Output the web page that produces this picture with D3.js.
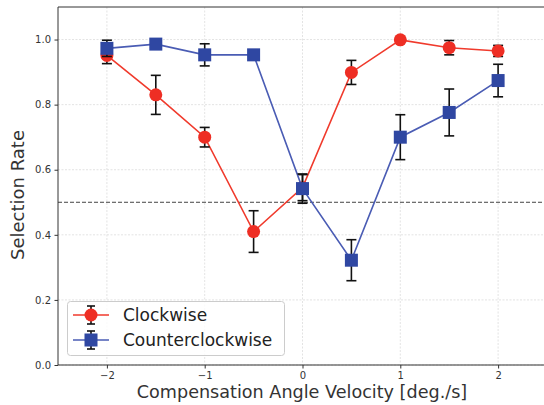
<!DOCTYPE html>
<html>
<head>
<meta charset="utf-8">
<script src="https://cdn.jsdelivr.net/npm/d3@7"></script>
<style>
  body { margin: 0; background: #fff; }
  text { font-family: "DejaVu Sans", sans-serif; }
</style>
</head>
<body>
<script>
// chart data
var velocities = [-2, -1.5, -1, -0.5, 0, 0.5, 1, 1.5, 2];
var cwRate  = [0.951, 0.830, 0.700, 0.410, 0.545, 0.899, 0.999, 0.975, 0.965];
var cwErr   = [0.025, 0.060, 0.030, 0.064, 0.040, 0.037, 0.000, 0.022, 0.017];
var ccwRate = [0.973, 0.986, 0.953, 0.953, 0.542, 0.322, 0.700, 0.776, 0.874];
var ccwErr  = [0.025, 0.004, 0.034, 0.008, 0.045, 0.063, 0.069, 0.072, 0.050];
var xTicks = [-2, -1, 0, 1, 2];
var yTicks = [0.0, 0.2, 0.4, 0.6, 0.8, 1.0];
var seriesNames = ['Clockwise', 'Counterclockwise'];

var W = 544, H = 405;
var pLeft = 58, pRight = 547, pTop = 7, pBottom = 365;

var svg = d3.select('body').append('svg')
  .attr('width', W)
  .attr('height', H);

var x = d3.scaleLinear().domain([-2.5, 2.5]).range([pLeft, pRight]);
var y = d3.scaleLinear().domain([0, 1.1]).range([pBottom, pTop]);

// grid
svg.append('g').selectAll('line.gx')
  .data(xTicks).enter().append('line')
  .attr('x1', function(d){ return x(d); })
  .attr('x2', function(d){ return x(d); })
  .attr('y1', pTop).attr('y2', pBottom)
  .attr('stroke', '#dcdcdc').attr('stroke-width', 0.8)
  .attr('stroke-dasharray', '2,1.5');
svg.append('g').selectAll('line.gy')
  .data(yTicks).enter().append('line')
  .attr('x1', pLeft).attr('x2', pRight)
  .attr('y1', function(d){ return y(d); })
  .attr('y2', function(d){ return y(d); })
  .attr('stroke', '#dcdcdc').attr('stroke-width', 0.8)
  .attr('stroke-dasharray', '2,1.5');

// chance line
svg.append('line')
  .attr('x1', pLeft).attr('x2', pRight)
  .attr('y1', y(0.5)).attr('y2', y(0.5))
  .attr('stroke', '#444').attr('stroke-width', 1)
  .attr('stroke-dasharray', '4,2');

// axes
var xAxis = svg.append('g')
  .attr('transform', 'translate(0,' + pBottom + ')')
  .call(d3.axisBottom(x).tickValues(xTicks).tickSize(3.5).tickPadding(3.5)
    .tickFormat(function(d){ return d3.format('d')(d).replace('-', '\u2212'); }));
var yAxis = svg.append('g')
  .attr('transform', 'translate(' + pLeft + ',0)')
  .call(d3.axisLeft(y).tickValues(yTicks).tickSize(3.5).tickPadding(3.5)
    .tickFormat(d3.format('.1f')));
[xAxis, yAxis].forEach(function(a){
  a.select('.domain').remove();
  a.selectAll('line').attr('stroke', '#333');
  a.selectAll('text').attr('font-size', '10px').attr('fill', '#333')
    .style('font-family', '"DejaVu Sans", sans-serif');
});

// spines
svg.append('line').attr('x1', pLeft).attr('x2', pRight).attr('y1', pBottom).attr('y2', pBottom)
  .attr('stroke', '#333').attr('stroke-width', 1);
svg.append('line').attr('x1', pLeft).attr('x2', pRight).attr('y1', pTop).attr('y2', pTop)
  .attr('stroke', '#333').attr('stroke-width', 1);
svg.append('line').attr('x1', pLeft).attr('x2', pLeft).attr('y1', pTop).attr('y2', pBottom)
  .attr('stroke', '#333').attr('stroke-width', 1);

// labels
svg.append('text')
  .attr('x', 302).attr('y', 398)
  .attr('text-anchor', 'middle').attr('font-size', '17.6px').attr('fill', '#333')
  .text('Compensation Angle Velocity [deg./s]');
svg.append('text')
  .attr('transform', 'translate(24,195) rotate(-90)')
  .attr('text-anchor', 'middle').attr('font-size', '18px').attr('fill', '#333')
  .text('Selection Rate');

var red = '#ee2e24', blue = '#2f47a2';
var line = d3.line()
  .x(function(d){ return x(d[0]); })
  .y(function(d){ return y(d[1]); });

function series(vals, errs, color, lineColor, shape) {
  var pts = velocities.map(function(v, i){ return [v, vals[i], errs[i]]; });
  var g = svg.append('g');
  g.append('path').datum(pts).attr('d', line)
    .attr('fill', 'none').attr('stroke', lineColor).attr('stroke-width', 1.6);
  var e = g.selectAll('g.err').data(pts).enter().append('g');
  e.append('line')
    .attr('x1', function(d){ return x(d[0]); }).attr('x2', function(d){ return x(d[0]); })
    .attr('y1', function(d){ return y(d[1] - d[2]); }).attr('y2', function(d){ return y(d[1] + d[2]); })
    .attr('stroke', '#111').attr('stroke-width', 1.6);
  [-1, 1].forEach(function(s){
    e.append('line')
      .attr('x1', function(d){ return x(d[0]) - 5; }).attr('x2', function(d){ return x(d[0]) + 5; })
      .attr('y1', function(d){ return y(d[1] + s * d[2]); }).attr('y2', function(d){ return y(d[1] + s * d[2]); })
      .attr('stroke', '#111').attr('stroke-width', 1.6);
  });
  if (shape === 'circle') {
    g.selectAll('circle').data(pts).enter().append('circle')
      .attr('cx', function(d){ return x(d[0]); })
      .attr('cy', function(d){ return y(d[1]); })
      .attr('r', 6.5).attr('fill', color);
  } else {
    g.selectAll('rect').data(pts).enter().append('rect')
      .attr('x', function(d){ return x(d[0]) - 6.5; })
      .attr('y', function(d){ return y(d[1]) - 6.5; })
      .attr('width', 13).attr('height', 13).attr('fill', color);
  }
}
series(cwRate, cwErr, red, '#f03a2c', 'circle');
series(ccwRate, ccwErr, blue, '#4a5cb4', 'square');

// legend
var lg = svg.append('g');
lg.append('rect').attr('x', 67.5).attr('y', 301.5).attr('width', 217).attr('height', 54)
  .attr('rx', 3).attr('fill', 'rgba(255,255,255,0.8)').attr('stroke', '#ccc');
seriesNames.forEach(function(name, i){
  var cy = 315 + i * 25, cx = 91;
  var c = i === 0 ? red : blue;
  lg.append('line').attr('x1', cx - 18).attr('x2', cx + 18).attr('y1', cy).attr('y2', cy)
    .attr('stroke', i === 0 ? '#f03a2c' : '#4a5cb4').attr('stroke-width', 1.6);
  lg.append('line').attr('x1', cx).attr('x2', cx).attr('y1', cy - 9).attr('y2', cy + 9)
    .attr('stroke', '#111').attr('stroke-width', 1.6);
  [-9, 9].forEach(function(o){
    lg.append('line').attr('x1', cx - 4).attr('x2', cx + 4).attr('y1', cy + o).attr('y2', cy + o)
      .attr('stroke', '#111').attr('stroke-width', 1.6);
  });
  if (i === 0) lg.append('circle').attr('cx', cx).attr('cy', cy).attr('r', 6.5).attr('fill', c);
  else lg.append('rect').attr('x', cx - 6.5).attr('y', cy - 6.5).attr('width', 13).attr('height', 13).attr('fill', c);
  lg.append('text').attr('x', 123).attr('y', cy + 6).attr('font-size', '17px').attr('fill', '#222')
    .text(name);
});
</script>
</body>
</html>
